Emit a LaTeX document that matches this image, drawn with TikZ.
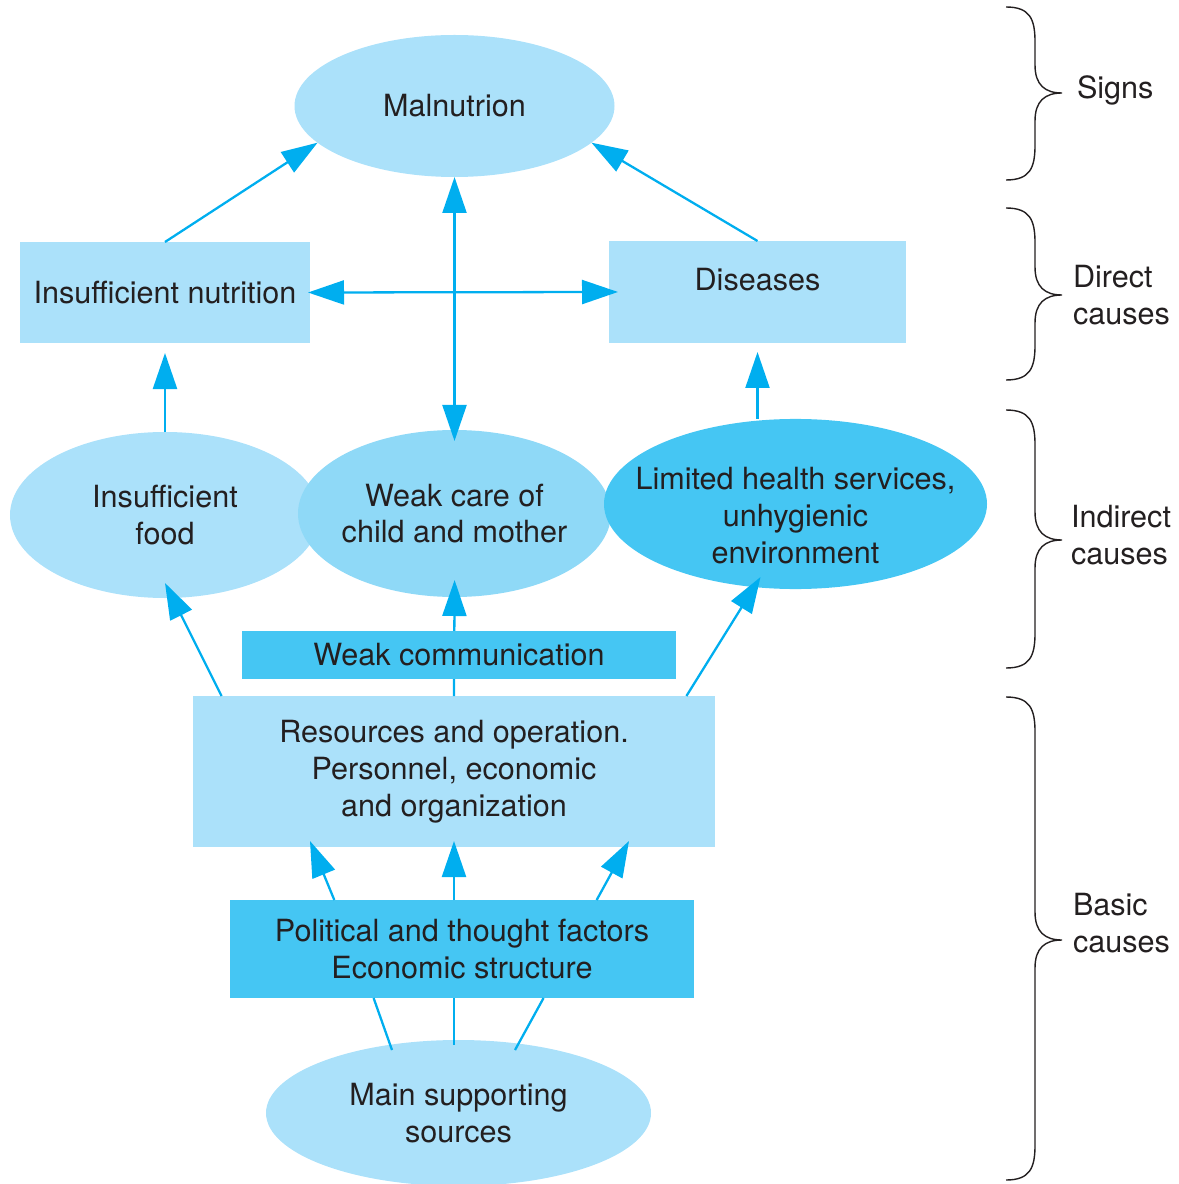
\documentclass[tikz,border=0pt]{standalone}
\usepackage{fontspec}
\setmainfont{TeX Gyre Heros}
\usetikzlibrary{arrows.meta,calc,shapes.geometric}

\definecolor{palecyan}{HTML}{ABE1FA}
\definecolor{midcyan}{HTML}{8FD9F7}
\definecolor{deepcyan}{HTML}{45C6F3}
\definecolor{arrowcyan}{HTML}{00AEEF}
\definecolor{inkgray}{HTML}{231F20}

% curly bracket on the right: top, tip, bottom
\newcommand{\sidebrace}[3]{%
  \draw[bracestyle] (10.06,#1) .. controls (10.30,#1) and (10.35,#1-0.12) .. (10.35,#1-0.35)
    -- (10.35,#2+0.28) .. controls (10.35,#2+0.08) and (10.45,#2) .. (10.62,#2)
    .. controls (10.45,#2) and (10.35,#2-0.08) .. (10.35,#2-0.28)
    -- (10.35,#3+0.35) .. controls (10.35,#3+0.12) and (10.30,#3) .. (10.06,#3);
}

\begin{document}
\begin{tikzpicture}[
    font=\fontsize{8.7pt}{10.5pt}\selectfont,
    every node/.style={text=inkgray, align=center, inner sep=0pt, outer sep=0pt},
    oval/.style={ellipse, fill=palecyan, inner xsep=-0.5cm},
    box/.style={rectangle, fill=palecyan},
    arr/.style={draw=arrowcyan, line width=0.65pt, -{Triangle[length=0.36cm,width=0.24cm]}},
    dblarr/.style={arr, {Triangle[length=0.36cm,width=0.24cm]}-{Triangle[length=0.36cm,width=0.24cm]}},
    link/.style={draw=arrowcyan, line width=0.65pt},
    bracestyle/.style={draw=inkgray, line width=0.4pt},
  ]
  \useasboundingbox (0,0) rectangle (11.79,-11.84);

  \node[oval, minimum width=3.2cm, minimum height=1.42cm] (maln) at (4.545,-1.06) {Malnutrion};
  \node[box, minimum width=2.9cm, minimum height=1.01cm] (nutr) at (1.65,-2.925) {Insufficient nutrition};
  \node[box, minimum width=2.97cm, minimum height=1.02cm, text depth=0.25cm] (dis) at (7.575,-2.92) {Diseases};
  \node[oval, minimum width=3.1cm, minimum height=1.66cm] (food) at (1.65,-5.15) {Insufficient\\food};
  \node[oval, fill=midcyan, minimum width=3.13cm, minimum height=1.67cm] (care) at (4.545,-5.135) {Weak care of\\child and mother};
  \node[oval, fill=deepcyan, minimum width=3.83cm, minimum height=1.66cm] (health) at (7.955,-5.04) {\rule{0pt}{0.46cm}Limited health services,\\unhygienic\\environment};
  \node[box, minimum width=5.22cm, minimum height=1.51cm] (res) at (4.54,-7.715) {Resources and operation.\\Personnel, economic\\and organization};
  \node[box, fill=deepcyan, minimum width=4.64cm, minimum height=0.98cm] (pol) at (4.62,-9.49) {Political and thought factors\\Economic structure};
  \node[oval, minimum width=3.85cm, minimum height=1.46cm] (src) at (4.585,-11.13) {Main supporting\\sources};

  % upper arrows
  \draw[arr] (nutr.north) -- (maln.195);
  \draw[arr] (dis.north) -- (maln.345);
  \draw[dblarr, shorten >=-0.11cm] (maln.south) -- (care.north);
  \draw[dblarr, shorten <=-0.02cm, shorten >=-0.09cm] (nutr.east) -- (dis.west);
  \draw[arr, shorten >=0.1cm] (food.north) -- (nutr.south);
  \draw[arr, shorten >=0.09cm] (dis.south |- health.north) -- (dis.south);

  % from resources
  \draw[arr] (res.162) -- ($(food.south)+(0,0.15)$);
  \draw[arr, shorten >=-0.17cm] (res.north) -- (care.south);
  \draw[arr] (res.18) -- ($(health.center)+(-0.35,-0.73)$);
  \node[box, fill=deepcyan, minimum width=4.34cm, minimum height=0.48cm] (comm) at (4.59,-6.55) {Weak communication};

  % lower arrows
  \draw[arr] (pol.159) -- ($(res.south)+(-1.44,0.06)$);
  \draw[arr, shorten >=-0.06cm] (res.south |- pol.north) -- (res.south);
  \draw[arr] (pol.20) -- ($(res.south)+(1.75,0.06)$);
  \draw[link] (pol.209) -- ($(src.center)+(-0.665,0.63)$);
  \draw[link, shorten >=-0.05cm] (res.south |- pol.south) -- (res.south |- src.north);
  \draw[link] (pol.329) -- ($(src.center)+(0.565,0.63)$);

  % braces and levels
  \sidebrace{-0.07}{-0.93}{-1.80}
  \sidebrace{-2.08}{-2.95}{-3.80}
  \sidebrace{-4.10}{-5.40}{-6.68}
  \sidebrace{-6.97}{-9.40}{-11.80}
  \node[anchor=west, align=left] (signs) at (10.77,-0.90) {Signs};
  \node[anchor=west, align=left] (direct) at (10.73,-2.955) {Direct\\causes};
  \node[anchor=west, align=left] (indirect) at (10.71,-5.355) {Indirect\\causes};
  \node[anchor=west, align=left] (basic) at (10.73,-9.235) {Basic\\causes};
\end{tikzpicture}
\end{document}
